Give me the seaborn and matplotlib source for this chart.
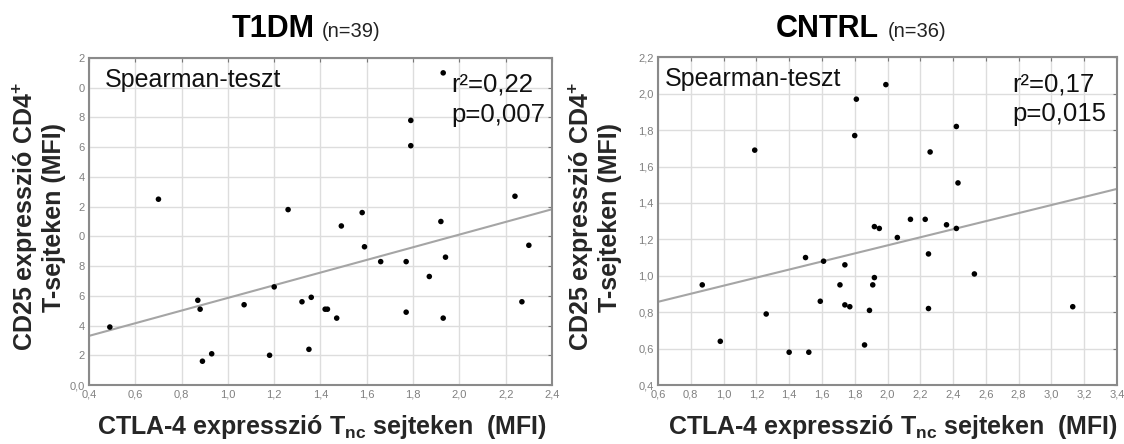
import numpy as np
import pandas as pd
import matplotlib
matplotlib.use("Agg")
import matplotlib.pyplot as plt
import seaborn as sns
from matplotlib import font_manager

# ---------------- data ----------------
t1dm_x = [0.49, 0.70, 0.87, 0.88, 0.89, 0.93, 1.07, 1.18, 1.20, 1.26, 1.32, 1.35,
          1.36, 1.42, 1.43, 1.47, 1.49, 1.58, 1.59, 1.66, 1.77, 1.77, 1.79, 1.79,
          1.87, 1.92, 1.93, 1.94, 1.93, 2.24, 2.27, 2.30]
t1dm_y = [0.39, 1.25, 0.57, 0.51, 0.16, 0.21, 0.54, 0.20, 0.66, 1.18, 0.56, 0.24,
          0.59, 0.51, 0.51, 0.45, 1.07, 1.16, 0.93, 0.83, 0.83, 0.49, 1.78, 1.61,
          0.73, 1.10, 2.10, 0.86, 0.45, 1.27, 0.56, 0.94]
cntrl_x = [0.87, 0.98, 1.19, 1.26, 1.40, 1.50, 1.52, 1.59, 1.61, 1.71, 1.74, 1.74,
           1.77, 1.80, 1.81, 1.86, 1.89, 1.91, 1.92, 1.92, 1.95, 1.99, 2.06, 2.14,
           2.23, 2.25, 2.25, 2.26, 2.36, 2.42, 2.42, 2.43, 2.53, 3.13]
cntrl_y = [0.95, 0.64, 1.69, 0.79, 0.58, 1.10, 0.58, 0.86, 1.08, 0.95, 1.06, 0.84,
           0.83, 1.77, 1.97, 0.62, 0.81, 0.95, 1.27, 0.99, 1.26, 2.05, 1.21, 1.31,
           1.31, 1.12, 0.82, 1.68, 1.28, 1.82, 1.26, 1.51, 1.01, 0.83]
fit_t1dm = (0.160, 0.426)    # intercept, slope
fit_cntrl = (0.724, 0.2215)
stats_t1dm = ("r²=0,22", "p=0,007")
stats_cntrl = ("r²=0,17", "p=0,015")
titles = [("T1DM", "(n=39)"), ("CNTRL", "(n=36)")]
t1dm_xticks = [0.4, 0.6, 0.8, 1.0, 1.2, 1.4, 1.6, 1.8, 2.0, 2.2, 2.4]
t1dm_yticks = [0.0, 0.2, 0.4, 0.6, 0.8, 1.0, 1.2, 1.4, 1.6, 1.8, 2.0, 2.2]
t1dm_yticklabels = ["0,0", "2", "4", "6", "8", "0", "2", "4", "6", "8", "0", "2"]
cntrl_xticks = [0.6, 0.8, 1.0, 1.2, 1.4, 1.6, 1.8, 2.0, 2.2, 2.4, 2.6, 2.8, 3.0, 3.2, 3.4]
cntrl_yticks = [0.4, 0.6, 0.8, 1.0, 1.2, 1.4, 1.6, 1.8, 2.0, 2.2]

ylabel_txt = "CD25 expresszió CD4$^{\\mathbf{+}}$\nT-sejteken (MFI)"
xlabel_txt = "CTLA-4 expresszió T$_{\\mathbf{nc}}$ sejteken  (MFI)"

# ---------------- style ----------------
sns.set_style("white")
plt.rcParams['font.family'] = ['Liberation Sans', 'DejaVu Sans']
plt.rcParams['mathtext.fontset'] = 'custom'
plt.rcParams['mathtext.rm'] = 'Liberation Sans'
plt.rcParams['mathtext.bf'] = 'Liberation Sans:bold'
plt.rcParams['mathtext.it'] = 'Liberation Sans:italic'

names = {f.name for f in font_manager.fontManager.ttflist}
narrow = 'Liberation Sans Narrow' if 'Liberation Sans Narrow' in names else 'Liberation Sans'

def fmt(v):
    return f"{v:.1f}".replace(".", ",")

W, H = 1124, 444
fig = plt.figure(figsize=(W / 100, H / 100), dpi=100)
axL = fig.add_axes([89 / W, 1 - 385 / H, (552 - 89) / W, (385 - 58) / H])
axR = fig.add_axes([658 / W, 1 - 385 / H, (1117 - 658) / W, (385 - 57.3) / H])

panels = [
    (axL, t1dm_x, t1dm_y, fit_t1dm, stats_t1dm, t1dm_xticks, t1dm_yticks,
     t1dm_yticklabels, (0.4, 2.4), (0.0, 2.2)),
    (axR, cntrl_x, cntrl_y, fit_cntrl, stats_cntrl, cntrl_xticks, cntrl_yticks,
     [fmt(v) for v in cntrl_yticks], (0.6, 3.4), (0.4, 2.2)),
]

for ax, xs, ys, fit, st, xt, yt, ytl, xlim, ylim in panels:
    df = pd.DataFrame({"x": xs, "y": ys})
    lx = np.array(xlim)
    line = pd.DataFrame({"x": lx, "y": fit[0] + fit[1] * lx})
    ax.grid(True, color="#dddddd", linewidth=1.0)
    ax.set_axisbelow(True)
    sns.lineplot(data=line, x="x", y="y", ax=ax, color="#a5a5a5", linewidth=1.5)
    sns.scatterplot(data=df, x="x", y="y", ax=ax, color="black", s=16,
                    edgecolor="none", zorder=3)
    ax.set_xlim(*xlim)
    ax.set_ylim(*ylim)
    ax.set_xticks(xt)
    ax.set_xticklabels([fmt(v) for v in xt])
    ax.set_yticks(yt)
    ax.set_yticklabels(ytl)
    ax.set_xlabel("")
    ax.set_ylabel("")
    ax.tick_params(axis="both", direction="in", length=3, width=0.8,
                   color="#777777", labelcolor="#808080", labelsize=8, pad=3,
                   top=True, right=True)
    for s in ax.spines.values():
        s.set_color("#8a8a8a")
        s.set_linewidth(1.5)
    ax.text(0.035 if ax is axL else 0.015, 0.911, "Spearman-teszt",
            transform=ax.transAxes, fontsize=18, va="baseline", ha="left",
            color="#111111")
    xx = 0.782 if ax is axL else 0.771
    ax.text(xx, 0.897, st[0], transform=ax.transAxes, fontsize=18.5,
            va="baseline", ha="left", color="#111111")
    ax.text(xx, 0.805, st[1], transform=ax.transAxes, fontsize=18.5,
            va="baseline", ha="left", color="#111111")

# titles
fig.text(315 / W, 1 - 37 / H, titles[0][0], fontsize=22, fontweight="bold",
         ha="right", va="baseline", color="black")
fig.text(322 / W, 1 - 37 / H, titles[0][1], fontsize=14.5, family=narrow,
         ha="left", va="baseline", color="#222222")
fig.text(879 / W, 1 - 37 / H, titles[1][0], fontsize=22, fontweight="bold",
         ha="right", va="baseline", color="black")
fig.text(888 / W, 1 - 37 / H, titles[1][1], fontsize=14.5, family=narrow,
         ha="left", va="baseline", color="#222222")

# y labels
for xc in (38, 594):
    fig.text(xc / W, 1 - 217 / H, ylabel_txt, fontsize=18, fontweight="bold",
             rotation=90, ha="center", va="center", multialignment="center",
             linespacing=1.1)
# x labels
for xc in (322, 893):
    fig.text(xc / W, 1 - 427 / H, xlabel_txt, fontsize=18, fontweight="bold",
             ha="center", va="center")

fig.savefig("out.png", dpi=100)
